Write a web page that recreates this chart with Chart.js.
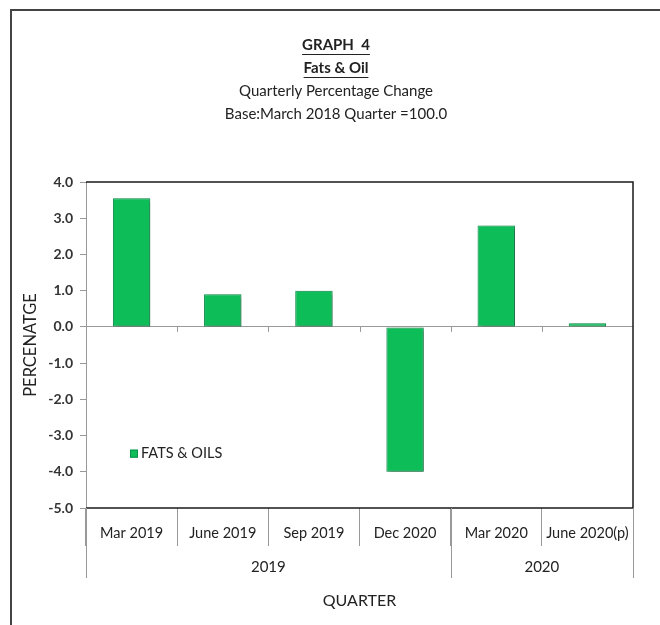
<!DOCTYPE html>
<html>
<head>
<meta charset="utf-8">
<script src="https://cdn.jsdelivr.net/npm/chart.js@4/dist/chart.umd.min.js"></script>
<style>
  html, body { margin: 0; padding: 0; background: #fff; }
  canvas { display: block; }
</style>
</head>
<body>
<canvas id="c" width="660" height="625"></canvas>
<script>
// ---- data ----
const categories = ['Mar 2019', 'June 2019', 'Sep 2019', 'Dec 2020', 'Mar 2020', 'June 2020(p)'];
const values = [3.55, 0.9, 1.0, -4.0, 2.8, 0.1];
const seriesLabel = 'FATS & OILS';
const yearLabels = ['2019', '2020'];
const yearSpans = [4, 2];
const yMin = -5.0, yMax = 4.0, yStep = 1.0;
const titleBold = ['GRAPH  4', 'Fats & Oil'];
const titleNormal = ['Quarterly Percentage Change', 'Base:March 2018 Quarter =100.0'];
const xTitle = 'QUARTER';
const yTitle = 'PERCENATGE';

const FONT = 'Lato, "Noto Sans", sans-serif';
const GREEN = '#0cbd58';
const GREEN_DARK = '#08914a';
const TXT = '#222';

const framePlugin = {
  id: 'frame',
  beforeDraw(chart) {
    const ctx = chart.ctx;
    ctx.save();
    ctx.fillStyle = '#fff';
    ctx.fillRect(0, 0, chart.width, chart.height);
    ctx.strokeStyle = '#444';
    ctx.lineWidth = 2;
    ctx.beginPath();
    ctx.moveTo(11, chart.height);
    ctx.lineTo(11, 10);
    ctx.lineTo(chart.width, 10);
    ctx.stroke();
    ctx.restore();
  },
  afterDraw(chart) {
    const ctx = chart.ctx;
    const a = chart.chartArea;
    const xs = chart.scales.x;
    const ys = chart.scales.y;
    ctx.save();
    // chart area frame (top, right, bottom)
    ctx.strokeStyle = '#1a1a1a';
    ctx.lineWidth = 1.5;
    ctx.beginPath();
    ctx.moveTo(a.left, a.top);
    ctx.lineTo(a.right, a.top);
    ctx.lineTo(a.right, a.bottom);
    ctx.lineTo(a.left, a.bottom);
    ctx.stroke();

    // small ticks on zero line at category boundaries
    const half = (xs.getPixelForValue(1) - xs.getPixelForValue(0)) / 2;
    const y0 = ys.getPixelForValue(0);
    ctx.strokeStyle = '#999';
    ctx.lineWidth = 1;
    ctx.beginPath();
    for (let i = 1; i < categories.length; i++) {
      const x = Math.round(xs.getPixelForValue(i) - half) + 0.5;
      ctx.moveTo(x, y0);
      ctx.lineTo(x, y0 + 5);
    }
    ctx.stroke();

    // year group row
    ctx.strokeStyle = '#999';
    ctx.beginPath();
    let start = 0;
    const bounds = [start];
    yearSpans.forEach(n => { start += n; bounds.push(start); });
    bounds.forEach(b => {
      const x = Math.round(xs.getPixelForValue(b) - half) + 0.5;
      ctx.moveTo(x, a.bottom);
      ctx.lineTo(x, a.bottom + 70);
    });
    ctx.stroke();
    ctx.fillStyle = TXT;
    ctx.font = '15px ' + FONT;
    ctx.textAlign = 'center';
    ctx.textBaseline = 'middle';
    yearLabels.forEach((lab, i) => {
      const l = xs.getPixelForValue(bounds[i]) - half;
      const r = xs.getPixelForValue(bounds[i + 1]) - half;
      ctx.fillText(lab, (l + r) / 2, a.bottom + 59);
    });

    // legend
    const lx = a.left + 44;
    const ly = ys.getPixelForValue(-3.5);
    ctx.fillStyle = GREEN;
    ctx.strokeStyle = GREEN_DARK;
    ctx.fillRect(lx, ly - 4, 8, 8);
    ctx.strokeRect(lx + 0.5, ly - 3.5, 7, 7);
    ctx.fillStyle = TXT;
    ctx.textAlign = 'left';
    ctx.font = '14.5px ' + FONT;
    ctx.fillText(chart.data.datasets[0].label, lx + 11, ly);

    // titles
    const cx = chart.width / 2 + 6;
    ctx.textAlign = 'center';
    ctx.font = 'bold 15px ' + FONT;
    ctx.strokeStyle = TXT;
    ctx.lineWidth = 1;
    titleBold.forEach((t, i) => {
      const y = 45 + i * 23;
      ctx.fillText(t, cx, y);
      const w = ctx.measureText(t).width;
      ctx.beginPath();
      ctx.moveTo(cx - w / 2, y + 9.5);
      ctx.lineTo(cx + w / 2, y + 9.5);
      ctx.stroke();
    });
    ctx.font = '15px ' + FONT;
    titleNormal.forEach((t, i) => {
      ctx.fillText(t, cx, 91 + i * 23);
    });
    ctx.restore();
  },
  beforeDatasetDraw(chart) {
    const ctx = chart.ctx;
    ctx.save();
    ctx.shadowColor = 'rgba(0,0,0,0.35)';
    ctx.shadowBlur = 4;
    ctx.shadowOffsetX = 2;
    ctx.shadowOffsetY = 2;
  },
  afterDatasetDraw(chart) {
    chart.ctx.restore();
  }
};

new Chart(document.getElementById('c'), {
  type: 'bar',
  data: {
    labels: categories,
    datasets: [{
      label: seriesLabel,
      data: values,
      backgroundColor: GREEN,
      borderColor: GREEN_DARK,
      borderWidth: 1,
      borderSkipped: false,
      categoryPercentage: 1.0,
      barPercentage: 0.41
    }]
  },
  options: {
    responsive: false,
    animation: false,
    devicePixelRatio: 1,
    layout: { padding: { top: 182, left: 12, right: 27, bottom: 0 } },
    plugins: {
      legend: { display: false },
      title: { display: false },
      tooltip: { enabled: false }
    },
    scales: {
      x: {
        type: 'category',
        offset: true,
        grid: {
          display: true,
          drawOnChartArea: false,
          offset: true,
          tickLength: 38,
          color: '#999',
          tickColor: '#999'
        },
        border: { display: false },
        ticks: {
          padding: -21,
          color: TXT,
          font: { family: FONT, size: 14.5 },
          maxRotation: 0,
          autoSkip: false
        },
        title: {
          display: true,
          text: xTitle,
          color: TXT,
          font: { family: FONT, size: 16 },
          padding: { top: 0, bottom: 15 }
        },
        afterFit(scale) { scale.height = 625 - 508; }
      },
      y: {
        min: yMin,
        max: yMax,
        ticks: {
          stepSize: yStep,
          padding: 7,
          color: '#333',
          font: { family: FONT, size: 14, weight: 'bold' },
          callback: v => Number(v).toFixed(1)
        },
        grid: {
          drawOnChartArea: true,
          tickLength: 6,
          color: ctx => (ctx.tick && ctx.tick.value === 0) ? '#999' : 'rgba(0,0,0,0)',
          tickColor: '#999'
        },
        border: { display: true, color: '#999' },
        title: {
          display: true,
          text: yTitle,
          color: TXT,
          font: { family: FONT, size: 16.5 },
          padding: { top: 9, bottom: 0 }
        },
        afterFit(scale) { scale.width = 86 - 12; }
      }
    }
  },
  plugins: [framePlugin]
});
</script>
</body>
</html>
